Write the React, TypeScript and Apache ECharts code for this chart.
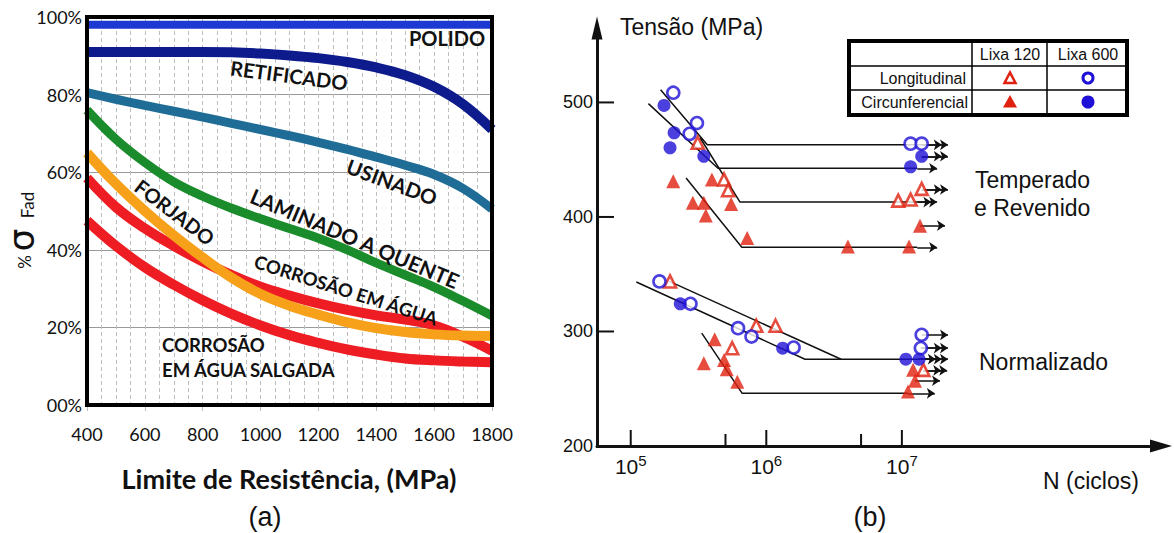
import React, { useEffect, useRef } from 'react';
import * as echarts from 'echarts';

// ---------- Panel (a) data ----------
const resistanceMPa = [400, 500, 600, 700, 800, 900, 1000, 1100, 1200, 1300, 1400, 1500, 1600, 1700, 1800];
const polido = [98, 98, 98, 98, 98, 98, 98, 98, 98, 98, 98, 98, 98, 98, 98];
const retificado = [91, 91, 91, 91, 91, 90.9, 90.6, 90.1, 89.4, 88.4, 87, 85, 82, 77.5, 71];
const usinado = [80.5, 78.8, 77.2, 75.7, 74.2, 72.6, 71, 69.4, 67.7, 65.9, 63.9, 61.8, 59.4, 55.8, 50.5];
const laminado = [76, 68.5, 62.5, 57.5, 53.8, 50.7, 48, 45.5, 43, 40, 36.6, 33.5, 30.4, 26.8, 23];
const forjado = [65, 57, 50, 43.7, 38, 32.8, 28.6, 25.6, 23.3, 21.3, 19.8, 18.8, 18.2, 17.9, 17.8];
const corrosaoAgua = [58.5, 51, 45.5, 41, 37, 33.5, 30.5, 28.2, 26.2, 24.5, 23.1, 22, 20.5, 17.6, 14];
const corrosaoSalgada = [47.5, 41, 35.5, 31, 27, 23.5, 20.5, 18, 16, 14.3, 13, 12, 11.5, 11.2, 11];

// ---------- Panel (b) data : [N (ciclos), Tensão (MPa)] ----------
const tempOpenCircle = [[2.06e5, 508.5], [3.08e5, 482], [2.72e5, 472.6], [1.16e7, 464], [1.4e7, 464]];
const tempFilledCircle = [[1.76e5, 497.4], [2.09e5, 473.5], [1.95e5, 460.4], [3.46e5, 453], [1.16e7, 443.8], [1.4e7, 453]];
const tempOpenTriangle = [[3.12e5, 464.8], [4.88e5, 432.7], [5.23e5, 423.3], [9.4e6, 414.3], [1.16e7, 415.2], [1.4e7, 424.5]];
const tempFilledTriangle = [[2.06e5, 431.2], [3.97e5, 432.7], [2.87e5, 412.3], [3.46e5, 412.3], [3.58e5, 401.2], [5.5e5, 411.4], [7.23e5, 381.7], [4.0e6, 374.3], [1.13e7, 374.3], [1.36e7, 392.4]];

const normOpenCircle = [[1.63e5, 343.7], [2.76e5, 324.2], [6.19e5, 302.9], [7.78e5, 295.6], [1.59e6, 286], [1.4e7, 297.1], [1.38e7, 285.5]];
const normFilledCircle = [[2.32e5, 324.2], [1.32e6, 285.4], [1.07e7, 275.8], [1.34e7, 275.8]];
const normOpenTriangle = [[1.95e5, 343.7], [8.43e5, 305], [1.17e6, 305], [5.6e5, 285.4], [1.44e7, 266.5]];
const normFilledTriangle = [[4.16e5, 293.3], [3.46e5, 272.3], [4.88e5, 275.2], [5.11e5, 267.1], [6.11e5, 256.2], [1.21e7, 266.5], [1.25e7, 256.9], [1.11e7, 247.5]];

const tempLine1 = [[1.66e5, 511], [3.67e5, 463], [1.4e7, 463]];
const tempLine2 = [[1.35e5, 499], [4.4e5, 442.5], [1.3e7, 442.5]];
const tempLine3 = [[3.24e5, 469.4], [6.4e5, 413], [1.3e7, 413]];
const tempLine4 = [[2.56e5, 434], [6.6e5, 373.5], [1.3e7, 373.5]];
const normLine1 = [[1.93e5, 343.7], [3.56e6, 275.8]];
const normLine2 = [[1.1e5, 343.2], [1.93e6, 275.8], [1.34e7, 275.8]];
const normLine3 = [[3.34e5, 298.6], [6.64e5, 246], [1.11e7, 246]];

// runout arrows: [N start, N end, MPa]
const runoutArrows = [
  [1.4e7, 2.19e7, 463], [1.4e7, 2.19e7, 453], [1.3e7, 1.82e7, 442.5], [1.4e7, 2.19e7, 424],
  [1.3e7, 1.82e7, 413], [1.36e7, 2.08e7, 392.5], [1.3e7, 1.82e7, 373.5],
  [1.4e7, 2.19e7, 297], [1.38e7, 2.19e7, 285.5], [1.34e7, 2.19e7, 275.8], [1.44e7, 2.16e7, 266],
  [1.25e7, 1.91e7, 257], [1.11e7, 1.75e7, 246],
];
// second (trailing) arrowheads on the doubled run-out arrows: [N start, N end, MPa]
const doubledArrowheads = [
  [1.4e7, 1.97e7, 463], [1.4e7, 1.97e7, 453], [1.4e7, 1.97e7, 424], [1.3e7, 1.65e7, 413],
  [1.38e7, 1.97e7, 285.5], [1.34e7, 1.97e7, 275.8], [1.34e7, 1.78e7, 275.8], [1.44e7, 1.95e7, 266],
];

const yTicksB = [200, 300, 400, 500];
const xMajorTicksB = [1e5, 1e6, 1e7];
const xMinorTicksB = [5e5, 5e6];
const yMinB = 200;
const yMaxB = 565;
const xMinB = 5.64e4;
const xMaxB = 8.15e8;

const fontA = 'Lato, "Open Sans", sans-serif';
const fontB = '"Liberation Sans", Arial, sans-serif';
const RED = '#e0200e';
const BLUE = '#1e10d6';

function pairs(xs: number[], ys: number[]) {
  return xs.map((x, i) => [x, ys[i]]);
}

export default function App() {
  const ref = useRef<HTMLDivElement>(null);
  useEffect(() => {
    if (!ref.current) return;
    const chart = echarts.init(ref.current, null, { renderer: 'svg' });

    const curveA = (name: string, data: number[], color: string, width: number) => ({
      type: 'line', name, xAxisIndex: 0, yAxisIndex: 0, data: pairs(resistanceMPa, data),
      smooth: 0.4, showSymbol: false, symbol: 'none', silent: true,
      lineStyle: { color, width, cap: 'butt' }, z: 3,
    });
    const lineB = (data: number[][]) => ({
      type: 'line', xAxisIndex: 1, yAxisIndex: 1, data, symbol: 'none', showSymbol: false, silent: true,
      lineStyle: { color: '#111', width: 1.5 }, z: 3,
    });
    const arrowsB = (rows: number[][]) => ({
      type: 'lines', coordinateSystem: 'cartesian2d', xAxisIndex: 1, yAxisIndex: 1, silent: true, z: 4,
      symbol: ['none', 'arrow'], symbolSize: 8,
      lineStyle: { color: '#111', width: 1.6, opacity: 1 },
      data: rows.map(([a, b, y]) => ({ coords: [[a, y], [b, y]] })),
    });
    const scatterB = (data: number[][], symbol: string, filled: boolean, color: string, size: number) => ({
      type: 'scatter', xAxisIndex: 1, yAxisIndex: 1, data, symbol, symbolSize: size, silent: true, z: 6,
      itemStyle: filled ? { color } : { color: '#fff', borderColor: color, borderWidth: 2.6 },
    });
    const tickSeries = (data: number[][], dx: number, dy: number) => ({
      type: 'custom', xAxisIndex: 1, yAxisIndex: 1, silent: true, z: 7, data,
      renderItem: (_p: any, api: any) => {
        const p = api.coord([api.value(0), api.value(1)]);
        return { type: 'line', shape: { x1: p[0], y1: p[1], x2: p[0] + dx, y2: p[1] + dy }, style: { stroke: '#111', lineWidth: 2 } };
      },
    });

    const labelA = (text: string, x: number, y: number, rot: number, size = 20, align = 'center') => ({
      type: 'text', x, y, rotation: rot, z: 50,
      style: { text, fill: '#111', fontFamily: fontA, fontWeight: 'bold', fontSize: size, align, verticalAlign: 'middle' },
    });
    const textB = (text: string, x: number, y: number, size: number, align = 'left') => ({
      type: 'text', x, y, z: 50,
      style: { text, fill: '#111', fontFamily: fontB, fontSize: size, align, verticalAlign: 'middle' },
    });

    const option: any = {
      animation: false,
      backgroundColor: '#fff',
      grid: [
        { left: 87, top: 17, width: 405, height: 388, outerBoundsMode: 'none', containLabel: false },
        { left: 597, top: 28, width: 564, height: 418, outerBoundsMode: 'none', containLabel: false },
      ],
      xAxis: [
        {
          type: 'value', gridIndex: 0, min: 400, max: 1800, interval: 200,
          axisLine: { show: false },
          axisTick: { show: true, length: 6, lineStyle: { color: '#bbb' } },
          axisLabel: { margin: 20, fontFamily: fontA, fontSize: 18, color: '#111', formatter: (v: number) => String(v) },
          splitLine: { show: true, lineStyle: { color: '#bdbdbd', width: 1, type: [4, 3] } },
          minorTick: { show: false, splitNumber: 4 },
          minorSplitLine: { show: true, lineStyle: { color: '#bdbdbd', width: 1, type: [4, 3] } },
        },
        {
          type: 'log', logBase: 10, gridIndex: 1, min: xMinB, max: xMaxB,
          axisLine: { show: true, lineStyle: { color: '#111', width: 3 }, symbol: ['none', 'triangle'], symbolSize: [13, 22] },
          axisTick: { show: false },
          splitLine: { show: false },
          axisLabel: {
            margin: 7,
            formatter: (v: number) => {
              const e = Math.round(Math.log10(v));
              const ok = Math.abs(Math.log10(v) - e) < 1e-6 && xMajorTicksB.some((t) => Math.abs(Math.log10(t) - e) < 1e-6);
              return ok ? `{b|10}{s|${e}}` : '';
            },
            rich: {
              b: { fontFamily: fontB, fontSize: 21, color: '#111', lineHeight: 26 },
              s: { fontFamily: fontB, fontSize: 15, color: '#111', lineHeight: 16, verticalAlign: 'top' },
            },
          },
        },
      ],
      yAxis: [
        {
          type: 'value', gridIndex: 0, min: 0, max: 100, interval: 20,
          axisLine: { show: false }, axisTick: { show: false },
          axisLabel: { margin: 5, fontFamily: fontA, fontSize: 18, color: '#111', formatter: (v: number) => (v === 0 ? '00%' : v + '%') },
          splitLine: { show: true, lineStyle: { color: '#9a9a9a', width: 1.2 } },
        },
        {
          type: 'value', gridIndex: 1, min: yMinB, max: yMaxB, interval: 100,
          axisLine: { show: true, lineStyle: { color: '#111', width: 3 }, symbol: ['none', 'triangle'], symbolSize: [11, 23] },
          axisTick: { show: false },
          splitLine: { show: false },
          axisLabel: { margin: 4, fontFamily: fontB, fontSize: 18, color: '#111', showMaxLabel: false },
        },
      ],
      series: [
        curveA('Polido', polido, '#1c3ad2', 8),
        curveA('Retificado', retificado, '#0d1b8c', 10),
        curveA('Usinado', usinado, '#1f6d96', 9),
        curveA('Laminado a quente', laminado, '#1a8c2c', 9),
        curveA('Corrosão em água salgada', corrosaoSalgada, '#ee1d23', 10),
        curveA('Corrosão em água', corrosaoAgua, '#ee1d23', 10),
        curveA('Forjado', forjado, '#f7a11a', 10),

        lineB(tempLine1), lineB(tempLine2), lineB(tempLine3), lineB(tempLine4),
        lineB(normLine1), lineB(normLine2), lineB(normLine3),
        arrowsB(runoutArrows),
        arrowsB(doubledArrowheads),
        scatterB(tempOpenTriangle, 'triangle', false, RED, 12),
        scatterB(normOpenTriangle, 'triangle', false, RED, 12),
        scatterB(tempFilledTriangle, 'triangle', true, RED, 14),
        scatterB(normFilledTriangle, 'triangle', true, RED, 14),
        scatterB(tempOpenCircle, 'circle', false, BLUE, 12),
        scatterB(normOpenCircle, 'circle', false, BLUE, 12),
        scatterB(tempFilledCircle, 'circle', true, BLUE, 13),
        scatterB(normFilledCircle, 'circle', true, BLUE, 13),
        tickSeries(yTicksB.map((v) => [xMinB, v]), 17, 0),
        tickSeries(xMajorTicksB.map((v) => [v, yMinB]), 0, -16),
        tickSeries(xMinorTicksB.map((v) => [v, yMinB]), 0, -12),
      ],
      graphic: [
        // frame of panel (a)
        { type: 'rect', z: 40, shape: { x: 87, y: 17, width: 405, height: 388 }, style: { fill: 'none', stroke: '#000', lineWidth: 4 } },
        labelA('POLIDO', 447, 38, 0),
        labelA('RETIFICADO', 289, 75, -0.13),
        labelA('USINADO', 392, 182, -0.36, 20.5),
        labelA('LAMINADO A QUENTE', 355, 238, -0.40, 21),
        labelA('FORJADO', 175, 212, -0.65),
        labelA('CORROSÃO EM ÁGUA', 346, 290, -0.31, 18.5),
        labelA('CORROSÃO', 162, 345, 0, 18.5, 'left'),
        labelA('EM ÁGUA SALGADA', 162, 370, 0, 18.5, 'left'),
        // y-axis name of (a)
        { type: 'text', x: 24, y: 262, rotation: Math.PI / 2, z: 50, style: { text: '%', fill: '#111', fontFamily: fontA, fontSize: 17, align: 'center', verticalAlign: 'middle' } },
        { type: 'text', x: 21, y: 240, rotation: Math.PI / 2, z: 50, style: { text: 'σ', fill: '#111', fontFamily: '"DejaVu Sans", sans-serif', fontSize: 36, lineHeight: 26, align: 'center', verticalAlign: 'middle' } },
        { type: 'text', x: 27, y: 205, rotation: Math.PI / 2, z: 50, style: { text: 'Fad', fill: '#111', fontFamily: fontA, fontSize: 17, align: 'center', verticalAlign: 'middle' } },
        // x title of (a)
        { type: 'text', x: 289, y: 478, z: 50, style: { text: 'Limite de Resistência, (MPa)', fill: '#111', fontFamily: fontA, fontWeight: 'bold', fontSize: 27, align: 'center', verticalAlign: 'middle' } },
        textB('(a)', 265, 517, 27, 'center'),
        // panel (b) texts
        textB('Tensão (MPa)', 620, 27, 23),
        textB('N (ciclos)', 1043, 481, 23),
        textB('(b)', 870, 517, 27, 'center'),
        textB('Temperado', 975, 180, 23),
        textB('e Revenido', 974, 208, 23),
        textB('Normalizado', 979, 362, 23),
        // legend table
        { type: 'rect', z: 45, shape: { x: 849, y: 41, width: 278, height: 74 }, style: { fill: '#fff', stroke: '#000', lineWidth: 4 } },
        { type: 'line', z: 46, shape: { x1: 972, y1: 41, x2: 972, y2: 115 }, style: { stroke: '#000', lineWidth: 1.5 } },
        { type: 'line', z: 46, shape: { x1: 1047, y1: 41, x2: 1047, y2: 115 }, style: { stroke: '#000', lineWidth: 1.5 } },
        { type: 'line', z: 46, shape: { x1: 849, y1: 66, x2: 1127, y2: 66 }, style: { stroke: '#000', lineWidth: 1.5 } },
        { type: 'line', z: 46, shape: { x1: 849, y1: 90, x2: 1127, y2: 90 }, style: { stroke: '#000', lineWidth: 1.5 } },
        textB('Lixa 120', 1010, 54, 16, 'center'),
        textB('Lixa 600', 1088, 54, 16, 'center'),
        textB('Longitudinal', 966, 78, 16, 'right'),
        textB('Circunferencial', 968, 102, 16, 'right'),
        { type: 'polygon', z: 47, shape: { points: [[1010, 72.5], [1004.5, 83], [1015.5, 83]] }, style: { fill: '#fff', stroke: RED, lineWidth: 2.5 } },
        { type: 'circle', z: 47, shape: { cx: 1088, cy: 78, r: 5 }, style: { fill: '#fff', stroke: BLUE, lineWidth: 3 } },
        { type: 'polygon', z: 47, shape: { points: [[1010, 95], [1003, 107.5], [1017, 107.5]] }, style: { fill: RED } },
        { type: 'circle', z: 47, shape: { cx: 1088, cy: 102, r: 6.5 }, style: { fill: BLUE } },
      ],
    };
    chart.setOption(option);
    return () => chart.dispose();
  }, []);
  return <div ref={ref} style={{ position: 'absolute', left: 0, top: 0, width: 1174, height: 533 }} />;
}
